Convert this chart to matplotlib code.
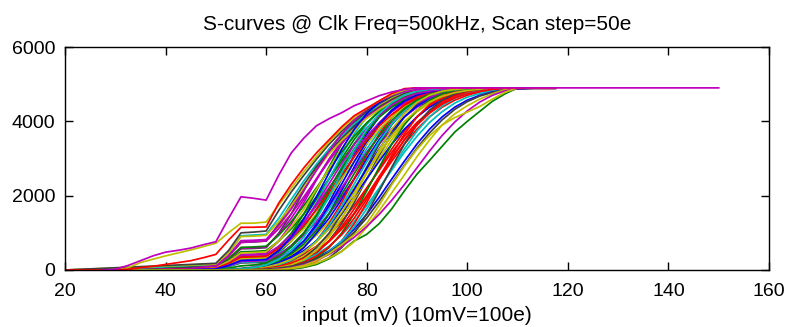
import numpy as np
import matplotlib
matplotlib.use("Agg")
import matplotlib.pyplot as plt

# Scan grid (mV); 10 mV = 100 e, scan step 50 e
SCAN_STEP_MV = 2.5
BUNDLE_FIRST_MV = 50.0
SCAN_END_MV = 117.5
X_TICKS = [20, 40, 60, 80, 100, 120, 140, 160]
Y_TICKS = [0, 2000, 4000, 6000]

# Counts per channel, one sample every 2.5 mV starting at 50 mV, up to saturation
ch01 = [0, 10, 20, 50, 110, 230, 450, 780, 1240, 1810, 2450, 3090, 3660, 4120, 4450, 4670, 4790, 4850, 4880, 4900]
ch02 = [40, 170, 350, 360, 380, 630, 960, 1390, 1900, 2450, 3000, 3510, 3940, 4280, 4520, 4690, 4790, 4850, 4880, 4900]
ch03 = [0, 10, 20, 40, 80, 150, 260, 420, 640, 940, 1300, 1730, 2210, 2690, 3170, 3600, 3970, 4260, 4490, 4650, 4750, 4820, 4860, 4880, 4890]
ch04 = [10, 15, 30, 70, 160, 330, 600, 990, 1510, 2130, 2770, 3390, 3910, 4300, 4570, 4740, 4830, 4870, 4890, 4900]
ch05 = [10, 20, 40, 80, 190, 330, 520, 780, 1110, 1510, 1970, 2450, 2930, 3390, 3790, 4120, 4380, 4570, 4700, 4790, 4840, 4870, 4890, 4900]
ch06 = [100, 350, 740, 760, 780, 1160, 1640, 2170, 2700, 3150, 3530, 3860, 4140, 4380, 4580, 4740, 4850, 4900]
ch07 = [0, 0, 5, 10, 20, 50, 110, 230, 450, 780, 1240, 1810, 2450, 3090, 3660, 4120, 4450, 4670, 4790, 4850, 4880, 4900]
ch08 = [5, 15, 30, 50, 110, 210, 380, 620, 960, 1390, 1900, 2450, 3000, 3510, 3940, 4280, 4530, 4690, 4790, 4850, 4880, 4890, 4900]
ch09 = [30, 140, 300, 310, 330, 600, 990, 1510, 2130, 2770, 3390, 3910, 4300, 4550, 4730, 4830, 4870, 4890, 4900]
ch10 = [0, 5, 10, 20, 50, 110, 200, 330, 520, 780, 1110, 1510, 1970, 2450, 2930, 3390, 3790, 4120, 4380, 4570, 4700, 4790, 4840, 4870, 4890]
ch11 = [5, 15, 35, 70, 150, 290, 490, 780, 1160, 1640, 2170, 2730, 3260, 3740, 4120, 4410, 4620, 4750, 4820, 4860, 4880, 4900]
ch12 = [40, 200, 420, 430, 450, 780, 1240, 1810, 2420, 2980, 3450, 3850, 4170, 4430, 4630, 4780, 4870, 4900]
ch13 = [5, 15, 30, 60, 140, 255, 415, 640, 935, 1300, 1730, 2210, 2690, 3170, 3600, 3960, 4260, 4490, 4650, 4750, 4820, 4860, 4880, 4890]
ch14 = [20, 90, 190, 200, 220, 400, 660, 1000, 1440, 1950, 2500, 3050, 3540, 3960, 4300, 4540, 4700, 4790, 4850, 4880, 4900]
ch15 = [0, 5, 10, 30, 70, 160, 330, 600, 990, 1510, 2130, 2770, 3390, 3910, 4300, 4570, 4740, 4830, 4870, 4890, 4900]
ch16 = [60, 250, 490, 500, 520, 780, 1110, 1510, 1970, 2450, 2930, 3390, 3790, 4120, 4380, 4570, 4700, 4790, 4840, 4870, 4890, 4900]
ch17 = [0, 0, 5, 15, 35, 80, 155, 285, 490, 780, 1160, 1640, 2170, 2730, 3260, 3740, 4120, 4410, 4620, 4750, 4820, 4860, 4880, 4900]
ch18 = [20, 100, 210, 220, 235, 450, 780, 1240, 1810, 2450, 3090, 3660, 4120, 4450, 4670, 4790, 4850, 4880, 4900]
ch19 = [50, 200, 390, 400, 415, 640, 935, 1300, 1730, 2210, 2690, 3170, 3600, 3960, 4260, 4490, 4650, 4750, 4820, 4860, 4880, 4890]
ch20 = [0, 5, 10, 25, 50, 110, 210, 375, 620, 960, 1390, 1900, 2450, 3000, 3510, 3940, 4280, 4530, 4690, 4790, 4850, 4880, 4890, 4900]
ch21 = [80, 280, 570, 580, 600, 990, 1510, 2130, 2750, 3250, 3650, 3980, 4250, 4480, 4660, 4800, 4880, 4900]
ch22 = [0, 10, 20, 40, 90, 190, 330, 520, 780, 1110, 1510, 1970, 2450, 2930, 3390, 3790, 4120, 4380, 4570, 4700, 4790, 4840, 4870, 4890, 4900]
ch23 = [30, 130, 260, 270, 285, 490, 780, 1160, 1640, 2170, 2730, 3260, 3740, 4120, 4410, 4620, 4750, 4820, 4860, 4880, 4900]
ch24 = [0, 5, 10, 20, 50, 110, 235, 450, 780, 1240, 1810, 2450, 3090, 3660, 4120, 4450, 4670, 4790, 4850, 4880, 4900]
ch25 = [0, 0, 5, 15, 40, 80, 150, 255, 415, 640, 935, 1300, 1730, 2210, 2690, 3170, 3600, 3970, 4260, 4490, 4650, 4750, 4820, 4860, 4880, 4890]
ch26 = [70, 290, 590, 600, 620, 960, 1390, 1900, 2450, 2980, 3450, 3850, 4180, 4430, 4620, 4760, 4850, 4890, 4900]
ch27 = [40, 150, 300, 310, 330, 520, 780, 1110, 1510, 1970, 2450, 2930, 3390, 3790, 4120, 4380, 4570, 4700, 4790, 4840, 4870, 4890, 4900]
ch28 = [0, 0, 5, 10, 30, 75, 165, 330, 600, 990, 1510, 2130, 2770, 3390, 3910, 4300, 4570, 4740, 4830, 4870, 4890, 4900]
ch29 = [0, 5, 15, 35, 80, 155, 285, 490, 780, 1160, 1640, 2170, 2730, 3260, 3740, 4120, 4410, 4620, 4750, 4820, 4860, 4880, 4900]
ch30 = [90, 300, 610, 620, 640, 935, 1300, 1730, 2210, 2690, 3170, 3600, 3960, 4260, 4490, 4650, 4750, 4820, 4860, 4880, 4890]
ch31 = [0, 0, 0, 5, 10, 20, 50, 110, 235, 450, 780, 1240, 1810, 2450, 3090, 3660, 4120, 4450, 4670, 4790, 4850, 4880, 4900]
ch32 = [150, 450, 920, 940, 960, 1390, 1900, 2400, 2850, 3250, 3600, 3920, 4200, 4420, 4620, 4780, 4870, 4900]
ch33 = [20, 110, 230, 240, 255, 415, 640, 935, 1300, 1730, 2210, 2690, 3170, 3600, 3960, 4260, 4490, 4650, 4750, 4820, 4860, 4880, 4890]
ch34 = [60, 230, 460, 470, 490, 780, 1160, 1640, 2170, 2730, 3260, 3740, 4120, 4410, 4620, 4750, 4820, 4860, 4880, 4900]
ch35 = [110, 370, 750, 760, 780, 1240, 1780, 2300, 2780, 3180, 3540, 3870, 4150, 4390, 4590, 4750, 4860, 4900]
ch36 = [0, 0, 5, 10, 20, 50, 100, 190, 320, 510, 770, 1100, 1500, 1960, 2450, 2930, 3390, 3790, 4120, 4380, 4570, 4700, 4790, 4840, 4870, 4890, 4900]
ch37 = [0, 0, 0, 5, 15, 30, 75, 165, 330, 600, 990, 1510, 2130, 2770, 3390, 3910, 4300, 4570, 4740, 4830, 4870, 4890, 4900]
ch38 = [0, 0, 5, 15, 30, 55, 110, 210, 375, 620, 960, 1390, 1900, 2450, 3000, 3510, 3940, 4280, 4530, 4690, 4790, 4850, 4880, 4890, 4900]
ch39 = [0, 0, 5, 10, 20, 40, 80, 155, 285, 490, 780, 1160, 1640, 2170, 2730, 3260, 3740, 4120, 4410, 4620, 4750, 4820, 4860, 4880, 4900]
ch40 = [120, 370, 740, 760, 780, 1110, 1510, 1970, 2450, 2930, 3390, 3790, 4120, 4350, 4550, 4700, 4790, 4840, 4870, 4890, 4900]
ch41 = [160, 450, 900, 910, 935, 1300, 1730, 2210, 2690, 3120, 3480, 3800, 4080, 4320, 4530, 4700, 4820, 4880, 4900]
ch42 = [0, 0, 0, 0, 5, 15, 30, 75, 165, 330, 600, 990, 1510, 2130, 2770, 3390, 3910, 4300, 4570, 4740, 4830, 4870, 4890, 4900]
ch43 = [3, 13, 28, 60, 130, 260, 470, 780, 1200, 1725, 2310, 2910, 3460, 3930, 4285, 4540, 4705, 4800, 4850, 4880, 4900]
ch44 = [15, 50, 110, 135, 190, 365, 630, 995, 1475, 2040, 2635, 3220, 3725, 4130, 4435, 4640, 4765, 4830, 4870, 4890, 4900]
ch45 = [45, 175, 345, 355, 370, 580, 860, 1205, 1620, 2090, 2570, 3050, 3495, 3875, 4190, 4435, 4610, 4725, 4805, 4850, 4875, 4890, 4900]
ch46 = [0, 5, 13, 28, 65, 133, 260, 470, 780, 1200, 1725, 2310, 2910, 3460, 3930, 4285, 4540, 4705, 4800, 4850, 4880, 4890, 4900]
ch47 = [30, 120, 250, 260, 280, 520, 850, 1270, 1780, 2320, 2860, 3370, 3810, 4170, 4440, 4630, 4750, 4820, 4860, 4885, 4900]
ch48 = [0, 10, 15, 35, 75, 160, 290, 480, 750, 1110, 1560, 2080, 2620, 3150, 3620, 4000, 4300, 4520, 4670, 4770, 4830, 4870, 4890, 4900]
ch49 = [180, 520, 1000, 1020, 1050, 1600, 2100, 2550, 2980, 3380, 3730, 4040, 4300, 4500, 4680, 4820, 4890, 4900]
ch50 = [25, 120, 255, 265, 280, 525, 885, 1375, 1970, 2610, 3240, 3785, 4210, 4510, 4705, 4810, 4860, 4885, 4900]
ch51 = [5, 15, 33, 60, 130, 250, 435, 700, 1060, 1515, 2035, 2590, 3130, 3625, 4030, 4345, 4575, 4720, 4805, 4855, 4880, 4895, 4900]
ch52 = [0, 5, 10, 20, 45, 95, 180, 310, 500, 760, 1100, 1520, 2000, 2520, 3030, 3500, 3900, 4220, 4460, 4630, 4740, 4810, 4860, 4885, 4900]
ch53 = [5, 13, 25, 60, 135, 280, 525, 885, 1375, 1970, 2610, 3240, 3785, 4210, 4510, 4705, 4810, 4860, 4885, 4900]
ch54 = [90, 380, 790, 800, 820, 1200, 1650, 2150, 2680, 3190, 3650, 4030, 4330, 4550, 4700, 4800, 4850, 4880, 4900]
ch55 = [0, 0, 5, 10, 25, 63, 138, 280, 525, 885, 1375, 1970, 2610, 3240, 3785, 4210, 4510, 4705, 4810, 4860, 4885, 4900]
ch56 = [0, 0, 5, 10, 25, 50, 100, 180, 300, 470, 710, 1020, 1400, 1850, 2330, 2820, 3280, 3690, 4040, 4320, 4530, 4680, 4780, 4840, 4875, 4890, 4900]

bundle = [ch01, ch02, ch03, ch04, ch05, ch06, ch07, ch08, ch09, ch10, ch11, ch12, ch13, ch14,
          ch15, ch16, ch17, ch18, ch19, ch20, ch21, ch22, ch23, ch24, ch25, ch26, ch27, ch28,
          ch29, ch30, ch31, ch32, ch33, ch34, ch35, ch36, ch37, ch38, ch39, ch40, ch41, ch42,
          ch43, ch44, ch45, ch46, ch47, ch48, ch49, ch50, ch51, ch52, ch53, ch54, ch55, ch56]
# first scan point of each channel (count 0 there)
bundle_start_mv = [50, 42.5, 50, 50, 27.5, 35, 50, 42.5, 35, 50, 50, 20, 50, 42.5,
                   50, 27.5, 50, 50, 42.5, 50, 35, 50, 27.5, 50, 50, 42.5, 35, 50,
                   50, 20, 50, 27.5, 50, 42.5, 35, 50, 50, 27.5, 50, 42.5, 20, 50,
                   50, 42.5, 35, 50, 27.5, 50, 20, 42.5, 50, 50, 35, 50, 27.5, 50]

# Channels with their own first scan point (counts every 2.5 mV from there)
edge_red_start, edge_red = 20.0, [0, 0, 0, 0, 0, 20, 60, 100, 150, 200, 250, 330, 420, 800, 1150, 1150, 1160,
                                  1800, 2300, 2750, 3150, 3500, 3850, 4150, 4350, 4550, 4750, 4880, 4900]
early_mag_start, early_mag = 27.5, [0, 20, 120, 250, 380, 480, 530, 590, 680, 760, 1380, 1970, 1930, 1880,
                                    2550, 3150, 3550, 3880, 4070, 4230, 4420, 4550, 4690, 4790, 4860, 4900]
early_yel_start, early_yel = 30.0, [0, 60, 200, 290, 380, 460, 540, 630, 720, 1000, 1260, 1260, 1290,
                                    1750, 2200, 2650, 3050, 3450, 3800, 4100, 4350, 4550, 4720, 4840, 4900]
late_yel_start, late_yel = 50.0, [0, 0, 0, 0, 0, 10, 40, 90, 180, 320, 500, 760, 1150, 1600, 2080, 2560,
                                  3050, 3500, 3900, 4200, 4420, 4600, 4740, 4850, 4900]
late_yel2_start, late_yel2 = 50.0, [0, 0, 0, 0, 0, 10, 50, 120, 250, 440, 680, 950, 1250, 1750, 2300, 2800,
                                    3250, 3620, 3900, 4100, 4250, 4400, 4600, 4780, 4900]
late_mag_start, late_mag = 50.0, [0, 0, 0, 0, 0, 20, 60, 140, 260, 420, 630, 880, 1170, 1500, 1880, 2300,
                                  2750, 3200, 3620, 3980, 4280, 4520, 4700, 4820, 4880, 4900]
late_grn_start, late_grn = 50.0, [0, 0, 0, 0, 0, 10, 30, 70, 150, 300, 500, 780, 960, 1250, 1650, 2130,
                                  2580, 2950, 3330, 3710, 4000, 4270, 4540, 4740, 4900]
EARLY_MAG_END_MV = 150.0

MATLAB_ORDER = ['#0000FF', '#008000', '#FF0000', '#00BFBF', '#BF00BF', '#BFBF00', '#404040']

plt.rcParams['font.family'] = ['Liberation Sans', 'DejaVu Sans']

fig = plt.figure(figsize=(7.87, 3.27), dpi=100)
ax = fig.add_axes([65 / 787, 57 / 327, 704 / 787, 223 / 327])


def scan_line(start_mv, counts, end_mv):
    x = start_mv + SCAN_STEP_MV * np.arange(len(counts))
    y = np.asarray(counts, dtype=float)
    # the count stays at its last value up to the end of the scan
    return np.r_[x, end_mv], np.r_[y, y[-1]]


LW = 1.25
for i, (start, counts) in enumerate(zip(bundle_start_mv, bundle)):
    x, y = scan_line(BUNDLE_FIRST_MV, counts, SCAN_END_MV)
    if start < BUNDLE_FIRST_MV:
        x = np.r_[start, x]
        y = np.r_[0.0, y]
    ax.plot(x, y, color=MATLAB_ORDER[i % 7], lw=LW)

for start, counts, col, end in [
        (late_grn_start, late_grn, '#008000', SCAN_END_MV),
        (late_yel_start, late_yel, '#BFBF00', SCAN_END_MV),
        (late_mag_start, late_mag, '#BF00BF', SCAN_END_MV),
        (late_yel2_start, late_yel2, '#BFBF00', SCAN_END_MV),
        (early_yel_start, early_yel, '#BFBF00', SCAN_END_MV),
        (edge_red_start, edge_red, '#FF0000', SCAN_END_MV),
        (early_mag_start, early_mag, '#BF00BF', EARLY_MAG_END_MV)]:
    x, y = scan_line(start, counts, end)
    ax.plot(x, y, color=col, lw=LW)

ax.set_xlim(20, 160)
ax.set_ylim(0, 6000)
ax.set_xticks(X_TICKS)
ax.set_yticks(Y_TICKS)
ax.tick_params(direction='in', top=True, right=True, length=6, width=1,
               labelsize=14, colors='black')
ax.tick_params(axis='x', pad=9)
ax.tick_params(axis='y', pad=7)
for sp in ax.spines.values():
    sp.set_linewidth(1.0)
    sp.set_color('black')

ax.set_title('S-curves @ Clk Freq=500kHz, Scan step=50e', fontsize=15, pad=12)
ax.set_xlabel('input (mV) (10mV=100e)', fontsize=15, labelpad=5)

fig.savefig('out.png', dpi=100)
